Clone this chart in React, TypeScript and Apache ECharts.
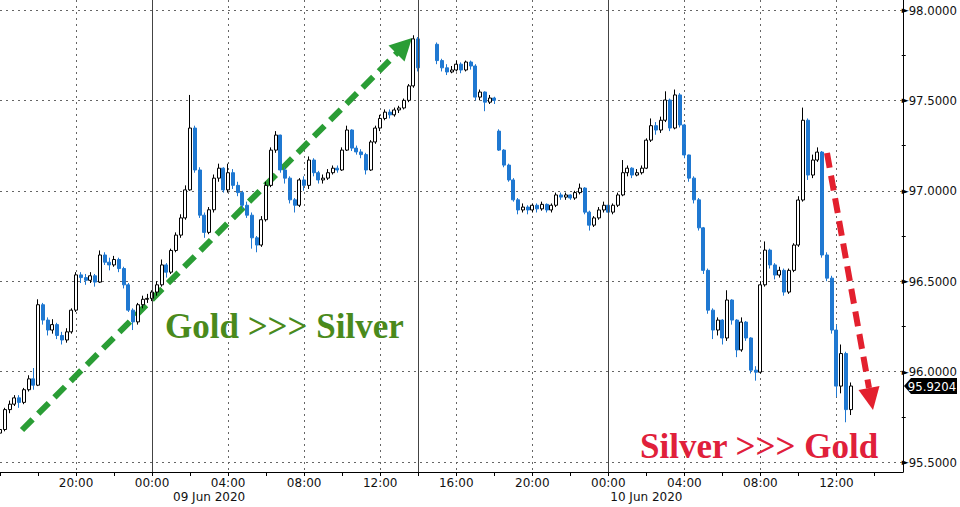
import React, { useEffect, useRef } from 'react';
import * as echarts from 'echarts';

// 15-minute candles from 08 Jun 2020 16:00, [open, close, low, high]; null = no trading
const CANDLES: (number[] | null)[] = [
  [95.66, 95.68, 95.64, 95.70], [95.68, 95.79, 95.67, 95.80], [95.79, 95.82, 95.77, 95.84], [95.82, 95.855, 95.81, 95.87],
  [95.855, 95.83, 95.80, 95.87], [95.83, 95.90, 95.82, 95.91], [95.90, 95.96, 95.89, 95.98], [95.96, 95.925, 95.90, 96.02],
  [95.925, 96.37, 95.92, 96.40], [96.37, 96.285, 96.26, 96.38], [96.285, 96.23, 96.20, 96.30], [96.23, 96.26, 96.21, 96.29],
  [96.26, 96.20, 96.18, 96.27], [96.20, 96.175, 96.15, 96.22], [96.175, 96.22, 96.16, 96.24], [96.22, 96.34, 96.21, 96.35],
  [96.34, 96.535, 96.33, 96.55], [96.535, 96.52, 96.49, 96.55], [96.52, 96.505, 96.48, 96.54], [96.505, 96.53, 96.49, 96.55],
  [96.53, 96.495, 96.47, 96.54], [96.495, 96.645, 96.49, 96.67], [96.645, 96.605, 96.59, 96.66], [96.605, 96.59, 96.56, 96.63],
  [96.59, 96.62, 96.58, 96.64], [96.62, 96.57, 96.55, 96.63], [96.57, 96.48, 96.46, 96.58], [96.48, 96.34, 96.33, 96.49],
  [96.34, 96.275, 96.23, 96.35], [96.275, 96.37, 96.26, 96.38], [96.37, 96.40, 96.35, 96.42], [96.40, 96.405, 96.38, 96.43],
  [96.405, 96.44, 96.39, 96.45], [96.44, 96.48, 96.42, 96.50], [96.48, 96.59, 96.47, 96.62], [96.59, 96.55, 96.52, 96.60],
  [96.55, 96.67, 96.54, 96.68], [96.67, 96.755, 96.66, 96.77], [96.755, 96.85, 96.74, 96.87], [96.85, 97.005, 96.84, 97.03],
  [97.005, 97.347, 97.00, 97.53], [97.347, 97.115, 97.10, 97.36], [97.115, 96.865, 96.85, 97.13], [96.865, 96.77, 96.74, 96.88],
  [96.77, 96.895, 96.76, 96.91], [96.895, 97.07, 96.88, 97.09], [97.07, 97.125, 97.05, 97.15], [97.125, 97.005, 96.99, 97.13],
  [97.005, 97.10, 96.99, 97.15], [97.10, 97.03, 97.01, 97.12], [97.03, 96.99, 96.97, 97.05], [96.99, 96.92, 96.90, 97.00],
  [96.92, 96.865, 96.85, 96.94], [96.865, 96.74, 96.68, 96.88], [96.74, 96.70, 96.66, 96.75], [96.70, 96.84, 96.69, 96.86],
  [96.84, 97.03, 96.83, 97.05], [97.03, 97.225, 97.02, 97.24], [97.225, 97.308, 97.21, 97.33], [97.308, 97.115, 97.10, 97.31],
  [97.115, 97.07, 97.04, 97.13], [97.07, 96.95, 96.93, 97.08], [96.95, 96.92, 96.88, 96.96], [96.92, 97.06, 96.91, 97.07],
  [97.06, 97.03, 97.00, 97.08], [97.03, 97.17, 97.01, 97.19], [97.17, 97.10, 97.08, 97.18], [97.10, 97.06, 97.04, 97.11],
  [97.06, 97.07, 97.04, 97.09], [97.07, 97.10, 97.06, 97.12], [97.10, 97.125, 97.09, 97.14], [97.125, 97.115, 97.10, 97.14],
  [97.115, 97.225, 97.11, 97.24], [97.225, 97.336, 97.22, 97.36], [97.336, 97.236, 97.22, 97.34], [97.236, 97.215, 97.20, 97.25],
  [97.215, 97.20, 97.18, 97.23], [97.20, 97.115, 97.09, 97.21], [97.115, 97.27, 97.11, 97.28], [97.27, 97.347, 97.26, 97.36],
  [97.347, 97.40, 97.33, 97.42], [97.40, 97.435, 97.39, 97.45], [97.435, 97.42, 97.40, 97.45], [97.42, 97.447, 97.41, 97.46],
  [97.447, 97.458, 97.43, 97.47], [97.458, 97.50, 97.45, 97.51], [97.50, 97.58, 97.49, 97.59], [97.58, 97.84, 97.57, 97.86],
  [97.84, 97.68, 97.66, 97.85], null, null, null,
  [97.81, 97.72, 97.70, 97.82], [97.72, 97.68, 97.66, 97.73], [97.68, 97.657, 97.64, 97.70], [97.657, 97.668, 97.65, 97.69],
  [97.668, 97.70, 97.66, 97.72], [97.70, 97.668, 97.65, 97.71], [97.668, 97.712, 97.66, 97.72], [97.712, 97.69, 97.67, 97.72],
  [97.69, 97.518, 97.50, 97.70], [97.518, 97.546, 97.50, 97.56], [97.546, 97.49, 97.44, 97.55], [97.49, 97.513, 97.48, 97.53],
  [97.513, 97.50, 97.48, 97.52], [97.33, 97.225, 97.22, 97.34], [97.225, 97.142, 97.13, 97.23], [97.142, 97.06, 97.05, 97.15],
  [97.06, 96.95, 96.94, 97.07], [96.95, 96.894, 96.87, 96.96], [96.894, 96.91, 96.88, 96.93], [96.91, 96.894, 96.87, 96.92],
  [96.894, 96.92, 96.88, 96.93], [96.92, 96.90, 96.88, 96.93], [96.90, 96.925, 96.89, 96.94], [96.925, 96.894, 96.88, 96.93],
  [96.894, 96.92, 96.88, 96.93], [96.92, 96.977, 96.91, 96.99], [96.977, 96.965, 96.95, 96.99], [96.965, 96.977, 96.95, 96.99],
  [96.977, 96.96, 96.95, 96.98], [96.96, 96.99, 96.95, 97.00], [96.99, 97.015, 96.98, 97.04], [97.015, 96.882, 96.87, 97.02],
  [96.882, 96.81, 96.78, 96.89], [96.81, 96.85, 96.80, 96.86], [96.85, 96.894, 96.84, 96.91], [96.894, 96.92, 96.88, 96.94],
  [96.92, 96.882, 96.87, 96.93], [96.882, 96.92, 96.87, 96.93], [96.92, 96.977, 96.91, 96.99], [96.977, 97.10, 96.97, 97.17],
  [97.10, 97.125, 97.08, 97.14], [97.125, 97.087, 97.07, 97.13], [97.087, 97.10, 97.08, 97.12], [97.10, 97.125, 97.09, 97.14],
  [97.125, 97.28, 97.12, 97.29], [97.28, 97.36, 97.27, 97.40], [97.36, 97.336, 97.31, 97.38], [97.336, 97.39, 97.32, 97.41],
  [97.39, 97.502, 97.38, 97.55], [97.502, 97.347, 97.33, 97.51], [97.347, 97.53, 97.34, 97.56], [97.53, 97.364, 97.35, 97.54],
  [97.364, 97.198, 97.18, 97.37], [97.198, 97.07, 97.05, 97.20], [97.07, 96.95, 96.93, 97.08], [96.95, 96.795, 96.78, 96.96],
  [96.795, 96.56, 96.54, 96.80], [96.56, 96.34, 96.32, 96.57], [96.34, 96.23, 96.18, 96.35], [96.23, 96.285, 96.20, 96.30],
  [96.285, 96.186, 96.15, 96.29], [96.186, 96.396, 96.17, 96.45], [96.396, 96.285, 96.26, 96.40], [96.285, 96.12, 96.08, 96.29],
  [96.12, 96.274, 96.11, 96.30], [96.274, 96.186, 96.17, 96.28], [96.186, 96.008, 95.99, 96.19], [96.008, 95.997, 95.95, 96.03],
  [95.997, 96.48, 95.99, 96.50], [96.48, 96.672, 96.47, 96.72], [96.672, 96.59, 96.57, 96.68], [96.59, 96.534, 96.51, 96.60],
  [96.534, 96.56, 96.52, 96.58], [96.56, 96.44, 96.42, 96.57], [96.44, 96.56, 96.43, 96.57], [96.56, 96.70, 96.55, 96.71],
  [96.70, 96.949, 96.69, 96.97], [96.949, 97.39, 96.94, 97.46], [97.39, 97.087, 97.06, 97.40], [97.087, 97.17, 97.07, 97.20],
  [97.17, 97.214, 97.16, 97.24], [97.214, 96.645, 96.63, 97.22], [96.645, 96.517, 96.50, 96.66], [96.517, 96.23, 96.21, 96.53],
  [96.23, 95.92, 95.86, 96.26], [95.92, 96.10, 95.88, 96.15], [96.10, 95.79, 95.72, 96.11], [95.79, 95.9204, 95.76, 95.94],
];

const LAST_VALUE = 95.9204;
const SLOT_COUNT = 191; // 08 Jun 16:00 .. 10 Jun 15:30 in 15-min steps
const START_HOUR = 16;
const DAY_BREAKS = [32, 128]; // 00:00 of 09 Jun and 10 Jun
const SESSION_BREAK = 88; // 09 Jun 14:00
const DATE_LABELS = [
  { index: 44, text: '09 Jun 2020' },
  { index: 136, text: '10 Jun 2020' },
];
const Y_TICKS_MIN = 95.5;
const Y_TICKS_MAX = 98.0;
const Y_STEP = 0.5;

const pad = (n: number) => (n < 10 ? '0' + n : '' + n);
const CATEGORIES: string[] = [];
for (let i = 0; i < SLOT_COUNT; i++) {
  const mins = START_HOUR * 60 + i * 15;
  const day = 8 + Math.floor(mins / 1440);
  const m = mins % 1440;
  CATEGORIES.push(pad(day) + ' ' + pad(Math.floor(m / 60)) + ':' + pad(m % 60));
}

const FONT = 'DejaVu Sans';

export default function App() {
  const ref = useRef<HTMLDivElement>(null);
  useEffect(() => {
    document.body.style.margin = '0';
    if (!ref.current) return;
    const chart = echarts.init(ref.current, undefined, { renderer: 'svg' });
    const data = CANDLES.map((c) => (c ? [c[0], c[1], c[2], c[3]] : ['-', '-', '-', '-']));
    chart.setOption({
      animation: false,
      backgroundColor: '#ffffff',
      grid: [
        { left: 0, right: 57, top: 0, bottom: 35 },
        { left: 0, right: 57, top: 10, bottom: 45 },
      ],
      xAxis: [
        {
          type: 'category',
          gridIndex: 0,
          data: CATEGORIES,
          boundaryGap: false,
          axisLine: { show: true, lineStyle: { color: '#000', width: 1 } },
          axisTick: { show: true, interval: (i: number) => i % 8 === 0, length: 4, lineStyle: { color: '#000' } },
          axisLabel: {
            interval: (i: number) => i % 16 === 0 && i > 0,
            formatter: (v: string) => v.slice(3),
            color: '#111',
            fontSize: 12,
            fontFamily: FONT,
            margin: 5,
          },
          splitLine: {
            show: true,
            interval: (i: number) => i % 16 === 0 && i > 0 && DAY_BREAKS.indexOf(i) < 0,
            lineStyle: { color: '#666', type: [2, 4], width: 1 },
          },
        },
        { type: 'category', gridIndex: 1, data: CATEGORIES, boundaryGap: false, show: false },
      ],
      yAxis: [
        {
          type: 'value',
          gridIndex: 0,
          position: 'right',
          min: 95.445,
          max: 98.055,
          axisLine: { show: true, lineStyle: { color: '#000', width: 1 } },
          axisTick: { show: false },
          axisLabel: { show: false },
          splitLine: { show: false },
        },
        {
          type: 'value',
          gridIndex: 1,
          position: 'right',
          min: Y_TICKS_MIN,
          max: Y_TICKS_MAX,
          interval: Y_STEP,
          axisLine: { show: false },
          axisTick: { show: false },
          minorTick: { show: true, splitNumber: 2, length: 4, lineStyle: { color: '#000' } },
          splitLine: { show: true, lineStyle: { color: '#666', type: [2, 4], width: 1 } },
          axisLabel: {
            margin: 0,
            formatter: (v: number) => '{a|►}{v|' + v.toFixed(4) + '}',
            rich: {
              a: { fontSize: 9, color: '#000', fontFamily: FONT },
              v: { fontSize: 13, color: '#111', fontFamily: 'DejaVu Sans Condensed' },
            },
          },
        },
      ],
      series: [
        {
          type: 'candlestick',
          xAxisIndex: 0,
          yAxisIndex: 0,
          data,
          barWidth: 3.5,
          itemStyle: {
            color: '#ffffff',
            color0: '#1f78d1',
            borderColor: '#000000',
            borderColor0: '#1f78d1',
            borderWidth: 1,
          },
          markLine: {
            silent: true,
            symbol: ['none', 'none'],
            label: { show: false },
            lineStyle: { color: '#444', type: 'solid', width: 1 },
            data: [...DAY_BREAKS, SESSION_BREAK].map((i) => ({ xAxis: i })),
          },
        },
      ],
    });

    const yLast = chart.convertToPixel({ yAxisIndex: 0 }, LAST_VALUE) as number;
    const xAxisRight = 903;
    const dateTexts = DATE_LABELS.map((d) => ({
      type: 'text',
      x: chart.convertToPixel({ xAxisIndex: 0 }, d.index) as number,
      y: 497,
      style: { text: d.text, font: `12px "${FONT}"`, fill: '#111', align: 'center', verticalAlign: 'middle' },
    }));

    chart.setOption({
      graphic: [
        {
          type: 'line',
          shape: { x1: 22, y1: 430, x2: 397, y2: 53 },
          style: { stroke: '#2a9d35', lineWidth: 6, lineDash: [15, 8] },
        },
        {
          type: 'polygon',
          shape: { points: [[412, 38], [404.5, 61.5], [388.5, 45.5]] },
          style: { fill: '#2a9d35' },
        },
        {
          type: 'line',
          shape: { x1: 827, y1: 153, x2: 869, y2: 388 },
          style: { stroke: '#e3202e', lineWidth: 6, lineDash: [15, 8] },
        },
        {
          type: 'polygon',
          shape: { points: [[873, 410], [879.5, 386], [858.5, 390]] },
          style: { fill: '#e3202e' },
        },
        {
          type: 'text',
          x: 165,
          y: 326,
          style: {
            text: 'Gold >>> Silver',
            font: 'bold 35px "Liberation Serif"',
            fill: '#4a8a1c',
            align: 'left',
            verticalAlign: 'middle',
          },
        },
        {
          type: 'text',
          x: 640,
          y: 446,
          style: {
            text: 'Silver >>> Gold',
            font: 'bold 35px "Liberation Serif"',
            fill: '#e0203a',
            align: 'left',
            verticalAlign: 'middle',
          },
        },
        ...dateTexts,
        {
          type: 'polygon',
          shape: {
            points: [
              [xAxisRight + 1, yLast],
              [xAxisRight + 8, yLast - 8],
              [957, yLast - 8],
              [957, yLast + 8],
              [xAxisRight + 8, yLast + 8],
            ],
          },
          style: { fill: '#000' },
        },
        {
          type: 'text',
          x: 932,
          y: yLast,
          style: {
            text: LAST_VALUE.toFixed(4),
            font: '13px "DejaVu Sans Condensed"',
            fill: '#fff',
            align: 'center',
            verticalAlign: 'middle',
          },
        },
      ],
    });

    return () => chart.dispose();
  }, []);
  return <div ref={ref} style={{ width: 960, height: 507 }} />;
}
